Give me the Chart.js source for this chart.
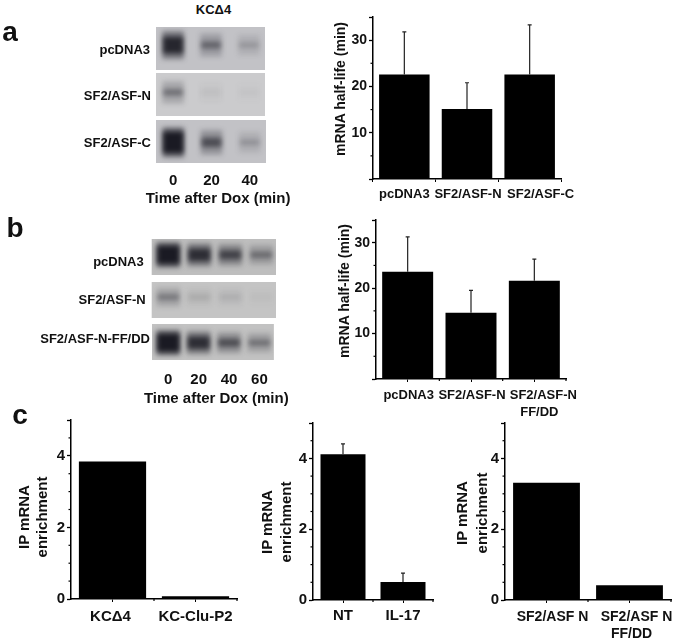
<!DOCTYPE html>
<html>
<head>
<meta charset="utf-8">
<title>SF2/ASF mRNA half-life</title>
<script src="https://cdn.jsdelivr.net/npm/chart.js@4"></script>
<style>
  html, body { margin: 0; background: #fff; overflow: hidden; }
  #page { position: relative; width: 675px; height: 643px; }
  #page canvas { position: absolute; }
  .txt { position: absolute; font: bold 15px "Liberation Sans", Arial, sans-serif; color: #111; white-space: nowrap; }
</style>
</head>
<body>
<div id="page"></div>
<script>
// bar panels
const halfLifeTicks = [0, 10, 20, 30, 35];
const halfLifeMinor = [5, 15, 25];
const enrichTicks = [0, 2, 4, 5];
const enrichMinor = [0.5, 1, 1.5, 2.5, 3, 3.5, 4.5];

const aLabels = ["pcDNA3", "SF2/ASF-N", "SF2/ASF-C"];
const aHalfLife = [22.6, 15.1, 22.6];
const aErrTop = [31.8, 20.8, 33.3];

const bLabels = ["pcDNA3", "SF2/ASF-N", ["SF2/ASF-N", "FF/DD"]];
const bHalfLife = [23.6, 14.6, 21.6];
const bErrTop = [31.3, 19.5, 26.4];

const c1Labels = ["KCΔ4", "KC-Clu-P2"];
const c1Enrich = [3.84, 0.08];

const c2Labels = ["NT", "IL-17"];
const c2Enrich = [4.12, 0.51];
const c2ErrTop = [4.41, 0.76];

const c3Labels = ["SF2/ASF N", ["SF2/ASF N", "FF/DD"]];
const c3Enrich = [3.31, 0.42];

// gel panels, band darkness per lane (0-1)
const aTimes = [0, 20, 40];
const aPcdna = [0.85, 0.42, 0.2];
const aSf2n = [0.38, 0.05, 0.03];
const aSf2c = [1, 0.55, 0.22];

const bTimes = [0, 20, 40, 60];
const bPcdna = [1, 0.78, 0.62, 0.4];
const bSf2n = [0.35, 0.12, 0.1, 0.03];
const bFfdd = [1, 0.78, 0.55, 0.38];

const FONT = "'Liberation Sans', Arial, sans-serif";
const page = document.getElementById("page");

function addCanvas(left, top, width, height) {
  const c = document.createElement("canvas");
  c.width = width;
  c.height = height;
  c.style.left = left + "px";
  c.style.top = top + "px";
  page.appendChild(c);
  return c.getContext("2d");
}

function addText(text, x, y, size, rotate) {
  const d = document.createElement("div");
  d.className = "txt";
  d.textContent = text;
  d.style.left = x + "px";
  d.style.top = y + "px";
  d.style.fontSize = size + "px";
  d.style.transform = "translate(-50%,-50%)" + (rotate ? " rotate(-90deg)" : "");
  page.appendChild(d);
}

// error whiskers, short ticks and the x labels (some sit off their bar centre)
const barExtras = {
  id: "barExtras",
  afterDatasetsDraw(chart, args, opts) {
    const { ctx, scales } = chart;
    const x = scales.x;
    const y = scales.y;
    ctx.save();
    ctx.strokeStyle = "#222";
    ctx.lineWidth = 1.2;
    (opts.errTop || []).forEach((top, i) => {
      const px = x.getPixelForValue(i);
      ctx.beginPath();
      ctx.moveTo(px, y.getPixelForValue(chart.data.datasets[0].data[i]));
      ctx.lineTo(px, y.getPixelForValue(top));
      ctx.moveTo(px - 2, y.getPixelForValue(top));
      ctx.lineTo(px + 2, y.getPixelForValue(top));
      ctx.stroke();
    });
    ctx.strokeStyle = "#000";
    opts.minor.forEach((v) => {
      const py = y.getPixelForValue(v);
      ctx.beginPath();
      ctx.moveTo(x.left, py);
      ctx.lineTo(x.left - 2.5, py);
      ctx.stroke();
    });
    if (opts.centerTicks) {
      const n = chart.data.labels.length;
      for (let i = 1; i <= n; i++) {
        const px = x.left + (i * x.width) / n;
        ctx.beginPath();
        ctx.moveTo(px, y.bottom);
        ctx.lineTo(px, y.bottom + 2);
        ctx.stroke();
      }
    }
    ctx.fillStyle = "#111";
    ctx.font = "bold " + opts.xSize + "px " + FONT;
    ctx.textAlign = "center";
    ctx.textBaseline = "middle";
    chart.data.labels.forEach((label, i) => {
      const shifts = opts.xShift || [];
      [].concat(label).forEach((line, k) => {
        ctx.fillText(line, x.getPixelForValue(i) + (shifts[i] || 0) - (k ? opts.line2Back || 0 : 0), y.bottom + opts.xGap + k * 17);
      });
    });
    ctx.restore();
  },
};

function makeBars(plot, labels, values, cfg) {
  const m = { l: 50, t: 12, r: cfg.right || 20, b: 52 };
  const ctx = addCanvas(plot.l - m.l, plot.t - m.t, plot.r - plot.l + m.l + m.r, plot.b - plot.t + m.t + m.b);
  return new Chart(ctx, {
    type: "bar",
    data: {
      labels: labels,
      datasets: [
        {
          data: values,
          backgroundColor: "#000",
          barPercentage: cfg.barPct || 0.805,
          categoryPercentage: 1,
        },
      ],
    },
    options: {
      responsive: false,
      animation: false,
      layout: { padding: { top: m.t, right: m.r } },
      plugins: {
        legend: { display: false },
        tooltip: { enabled: false },
        barExtras: {
          errTop: cfg.errTop,
          minor: cfg.minor,
          centerTicks: cfg.centerTicks,
          xShift: cfg.xShift,
          xSize: cfg.xSize,
          xGap: cfg.xGap,
          line2Back: cfg.line2Back,
        },
      },
      scales: {
        x: {
          afterFit: (s) => { s.height = m.b; },
          border: { color: "#000", width: 1.5 },
          grid: { drawOnChartArea: false, offset: !cfg.centerTicks, tickColor: "#000", tickLength: 3 },
          ticks: { display: false },
        },
        y: {
          min: 0,
          max: cfg.ticks[cfg.ticks.length - 1],
          afterFit: (s) => { s.width = m.l; },
          afterBuildTicks: (s) => { s.ticks = cfg.ticks.map((v) => ({ value: v })); },
          border: { color: "#000", width: 1.5 },
          grid: { drawOnChartArea: false, tickColor: "#000", tickLength: 4, tickWidth: 1.3 },
          ticks: {
            color: "#111",
            padding: 2,
            autoSkip: false,
            callback: (v) => (cfg.labelled.includes(v) ? String(v) : ""),
            font: { family: FONT, weight: "bold", size: cfg.ySize },
          },
        },
      },
    },
    plugins: [barExtras],
  });
}

// gray film background + soft bands
const gelLook = {
  id: "gelLook",
  beforeDatasetsDraw(chart, args, opts) {
    const { ctx, chartArea: a } = chart;
    ctx.save();
    ctx.fillStyle = opts.bg;
    ctx.fillRect(a.left, a.top, a.width, a.height);
    ctx.beginPath();
    ctx.rect(a.left, a.top, a.width, a.height);
    ctx.clip();
    ctx.filter = "blur(" + opts.blur + "px)";
  },
  afterDatasetsDraw(chart) {
    chart.ctx.restore();
  },
};

function makeGel(gel, name, times, darkness, cfg) {
  const pad = 8;
  const bottom = cfg.timesPad ? 30 : pad;
  const ctx = addCanvas(0, gel.t - pad, gel.r + 2, gel.b - gel.t + pad + bottom);
  const band = (i, spread) => ({ x: times[i], y: [cfg.bandAt - spread, cfg.bandAt + spread] });
  return new Chart(ctx, {
    type: "bar",
    data: {
      datasets: [
        {
          data: times.map((t, i) => band(i, 0.2 + 0.14 * darkness[i])),
          backgroundColor: darkness.map((d) => "rgba(40,40,50," + 0.55 * d + ")"),
          barThickness: cfg.bandWidth,
          grouped: false,
        },
        {
          data: times.map((t, i) => band(i, 0.04 + 0.2 * darkness[i] * darkness[i])),
          backgroundColor: darkness.map((d) => "rgba(0,0,8," + 0.95 * d + ")"),
          barThickness: cfg.bandWidth - 2,
          grouped: false,
        },
      ],
    },
    options: {
      responsive: false,
      animation: false,
      layout: { padding: { top: pad, right: 2 } },
      plugins: {
        legend: { display: false },
        tooltip: { enabled: false },
        gelLook: { bg: cfg.bg, blur: cfg.blur },
      },
      scales: {
        x: {
          type: "linear",
          offset: false,
          min: cfg.xMin,
          max: cfg.xMax,
          display: !!cfg.timesPad,
          afterFit: (s) => { s.height = bottom; },
          afterBuildTicks: (s) => { s.ticks = times.map((t) => ({ value: t })); },
          border: { display: false },
          grid: { display: false, drawTicks: false },
          ticks: {
            color: "#111",
            padding: cfg.timesPad,
            autoSkip: false,
            maxRotation: 0,
            callback: (v) => String(v),
            font: { family: FONT, weight: "bold", size: 15 },
          },
        },
        y: {
          min: 0,
          max: 1,
          afterFit: (s) => {
            s.width = gel.l;
            s.paddingTop = 0;
            s.paddingBottom = 0;
          },
          afterBuildTicks: (s) => { s.ticks = [{ value: cfg.nameAt }]; },
          border: { display: false },
          grid: { display: false, drawTicks: false },
          ticks: {
            color: "#111",
            padding: cfg.namePad,
            callback: () => name,
            font: { family: FONT, weight: "bold", size: 13 },
          },
        },
      },
    },
    plugins: [gelLook],
  });
}

// panel a
const aGel = { xMin: -9, xMax: 48.5, bandWidth: 21, blur: 2.5 };
makeGel({ l: 156, r: 265, t: 26.7, b: 70 }, "pcDNA3", aTimes, aPcdna,
  { ...aGel, bg: "#c2c2c6", bandAt: 0.58, nameAt: 0.46, namePad: 6 });
makeGel({ l: 156, r: 265, t: 72.7, b: 116 }, "SF2/ASF-N", aTimes, aSf2n,
  { ...aGel, bg: "#cbcbcd", bandAt: 0.55, nameAt: 0.46, namePad: 5 });
makeGel({ l: 156, r: 266, t: 120, b: 163.3 }, "SF2/ASF-C", aTimes, aSf2c,
  { ...aGel, bg: "#c2c2c6", bandAt: 0.48, nameAt: 0.45, namePad: 5, timesPad: 9 });

makeBars({ l: 373, r: 561, t: 16.7, b: 179 }, aLabels, aHalfLife,
  { errTop: aErrTop, ticks: halfLifeTicks, labelled: [10, 20, 30], minor: halfLifeMinor, xSize: 13, ySize: 14, xGap: 15, xShift: [0, 1, 11], barPct: 0.806, right: 30 });

// panel b
const bGel = { xMin: -10.7, xMax: 69.5, bandWidth: 23, blur: 2.5 };
makeGel({ l: 151.7, r: 276, t: 239, b: 275.7 }, "pcDNA3", bTimes, bPcdna,
  { ...bGel, bg: "#bebebe", bandAt: 0.56, nameAt: 0.35, namePad: 8 });
makeGel({ l: 151.7, r: 276, t: 281.7, b: 317.7 }, "SF2/ASF-N", bTimes, bSf2n,
  { ...bGel, bg: "#c4c4c4", bandAt: 0.58, nameAt: 0.49, namePad: 6 });
makeGel({ l: 152, r: 277.7, t: 324, b: 360.7 }, "SF2/ASF-N-FF/DD", bTimes, bFfdd,
  { ...bGel, bg: "#c2c2c2", bandAt: 0.48, nameAt: 0.56, namePad: 2, timesPad: 11 });

makeBars({ l: 375.7, r: 566, t: 220, b: 379.3 }, bLabels, bHalfLife,
  { errTop: bErrTop, ticks: halfLifeTicks, labelled: [10, 20, 30], minor: halfLifeMinor, xSize: 13, ySize: 14, xGap: 16, xShift: [1, 1, 9], line2Back: 4, centerTicks: true, right: 30 });

// panel c
makeBars({ l: 70.7, r: 237, t: 420, b: 599.3 }, c1Labels, c1Enrich,
  { ticks: enrichTicks, labelled: [0, 2, 4], minor: enrichMinor, xSize: 15, ySize: 15, xGap: 17.5, xShift: [-2, 0], centerTicks: true, barPct: 0.81 });
makeBars({ l: 313.3, r: 434, t: 423.3, b: 601 }, c2Labels, c2Enrich,
  { errTop: c2ErrTop, ticks: enrichTicks, labelled: [0, 2, 4], minor: enrichMinor, xSize: 15, ySize: 15, xGap: 16, centerTicks: true, barPct: 0.75 });
makeBars({ l: 505, r: 671.7, t: 422.7, b: 600 }, c3Labels, c3Enrich,
  { ticks: enrichTicks, labelled: [0, 2, 4], minor: enrichMinor, xSize: 14, ySize: 15, xGap: 17, xShift: [6, 7], line2Back: 5, centerTicks: true, right: 6 });

// free text
addText("a", 10, 32, 28);
addText("b", 15, 228, 28);
addText("c", 20, 415, 28);
addText("KCΔ4", 213.5, 9, 13);
addText("Time after Dox (min)", 218, 196.7, 15);
addText("Time after Dox (min)", 216.3, 397, 15);
addText("mRNA half-life (min)", 340, 89, 14, true);
addText("mRNA half-life (min)", 343.8, 291, 14, true);
addText("IP mRNA", 22.5, 517, 15, true);
addText("enrichment", 41, 517, 15, true);
addText("IP mRNA", 266.3, 522, 15, true);
addText("enrichment", 285.3, 522, 15, true);
addText("IP mRNA", 461, 513, 15, true);
addText("enrichment", 481, 513, 15, true);
</script>
</body>
</html>
